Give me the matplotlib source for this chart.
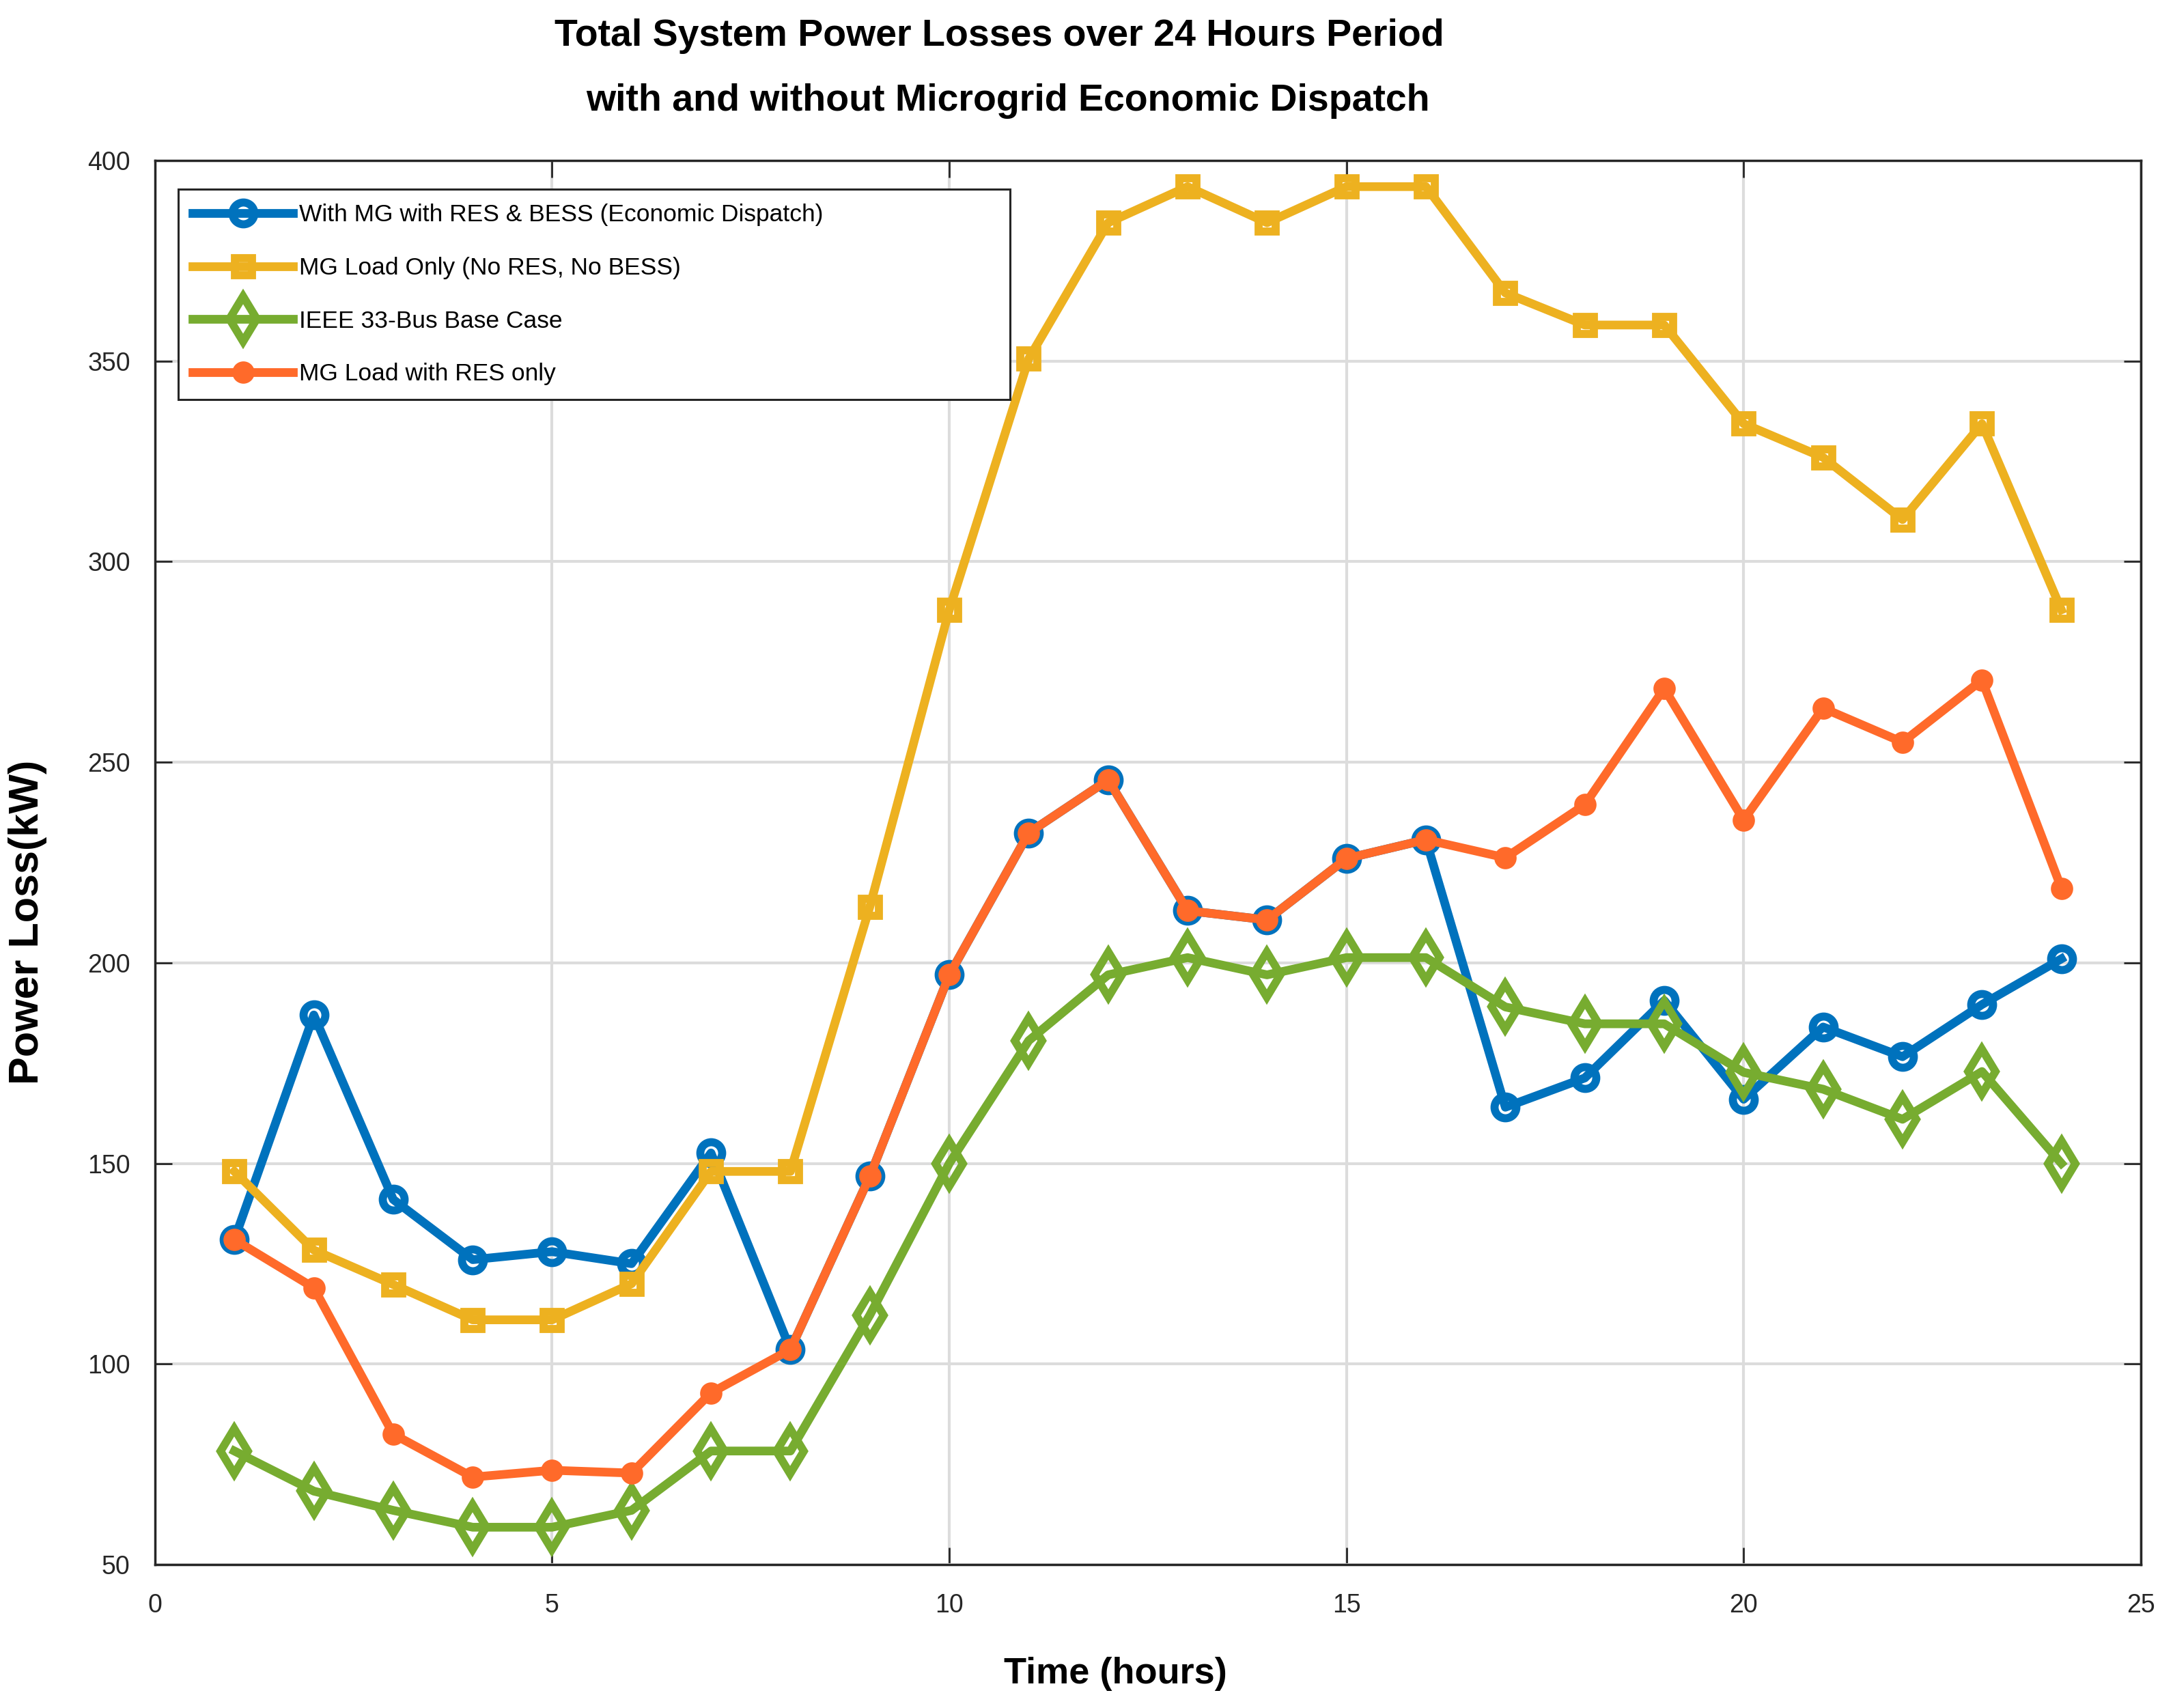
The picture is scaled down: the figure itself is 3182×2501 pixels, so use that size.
import numpy as np
import matplotlib
matplotlib.use("Agg")
import matplotlib.pyplot as plt

# ==================================================
# Data
# ==================================================
hours = list(range(1, 25))

with_mg_ed = [131, 187, 141, 126, 128, 125, 152.6, 103.6, 146.8, 197, 232.4, 245.6,
              213, 210.7, 226, 230.7, 164, 171.3, 190.6, 166, 184, 176.6, 189.6, 201]
mg_load_only = [148, 128.4, 119.8, 111, 111, 120, 148, 148, 214, 288, 350.6, 384.5,
                393.5, 384.5, 393.5, 393.5, 367, 359, 359, 334.4, 326, 310.5, 334.4, 288]
ieee_base = [78.3, 68.3, 63.5, 59.3, 59.3, 63.5, 78.3, 78.3, 112.2, 150, 180.6, 197,
             201.3, 197, 201.3, 201.3, 189, 184.8, 184.8, 172.7, 168.5, 161, 172.9, 150]
mg_res_only = [131, 119, 82.5, 71.8, 73.5, 72.8, 92.8, 103.6, 146.8, 197, 232.4, 245.6,
               213, 210.7, 226, 230.7, 226.2, 239.4, 268.4, 235.6, 263.5, 255, 270.5, 218.6]

labels = ["With MG with RES & BESS (Economic Dispatch)",
          "MG Load Only (No RES, No BESS)",
          "IEEE 33-Bus Base Case",
          "MG Load with RES only"]

x_ticks = [0, 5, 10, 15, 20, 25]
y_ticks = [50, 100, 150, 200, 250, 300, 350, 400]

# ==================================================
# Style
# ==================================================
plt.rcParams["font.family"] = ["Liberation Sans", "DejaVu Sans"]
AX_COLOR = "#262626"
BLUE = "#0072BD"
YELLOW = "#EDB120"
GREEN = "#77AC30"
ORANGE = "#FF6A2A"

LW = 9.2
MEW = 8.5

fig = plt.figure(figsize=(31.82, 25.01), dpi=100)
ax = fig.add_axes([0.0713, 0.0840, 0.9139, 0.8220])

ax.plot(hours, with_mg_ed, color=BLUE, lw=LW, marker="o", ms=23, mew=MEW,
        mfc="none", mec=BLUE, label=labels[0], zorder=3)
ax.plot(hours, mg_load_only, color=YELLOW, lw=LW, marker="s", ms=18, mew=MEW,
        mfc="none", mec=YELLOW, label=labels[1], zorder=3)
ax.plot(hours, ieee_base, color=GREEN, lw=LW, marker="d", ms=34, mew=MEW,
        mfc="none", mec=GREEN, label=labels[2], zorder=3)
ax.plot(hours, mg_res_only, color=ORANGE, lw=LW, marker="o", ms=15, mew=MEW,
        mfc=ORANGE, mec=ORANGE, label=labels[3], zorder=3)

ax.set_xlim(0, 25)
ax.set_ylim(50, 400)
ax.set_xticks(x_ticks)
ax.set_yticks(y_ticks)

ax.grid(True, color="#dcdcdc", lw=3, zorder=0)
ax.set_axisbelow(True)

for sp in ax.spines.values():
    sp.set_color(AX_COLOR)
    sp.set_linewidth(2.5)

ax.tick_params(axis="both", direction="in", length=18, width=2, colors=AX_COLOR,
               labelsize=27, top=True, right=True)
ax.tick_params(axis="x", pad=30)
ax.tick_params(axis="y", pad=26)

# titles and axis labels placed like the reference
fig.text(0.460, 0.979, "Total System Power Losses over 24 Hours Period",
         ha="center", va="center", fontsize=40, fontweight="bold")
fig.text(0.464, 0.941, "with and without Microgrid Economic Dispatch",
         ha="center", va="center", fontsize=40, fontweight="bold")
fig.text(0.5134, 0.020, "Time (hours)", ha="center", va="center",
         fontsize=39, fontweight="bold")
fig.text(0.0126, 0.460, "Power Loss(kW)", ha="center", va="center",
         rotation=90, fontsize=44, fontweight="bold")

leg = ax.legend(loc="upper left", bbox_to_anchor=(0.0117, 0.0, 0.419, 0.9796),
                mode="expand", borderaxespad=0, fontsize=25.5, handlelength=4.15,
                handletextpad=0.25, labelspacing=1.26, borderpad=0.6,
                fancybox=False, framealpha=1, edgecolor=AX_COLOR)
leg.get_frame().set_linewidth(2.2)

fig.savefig("out.png", dpi=100)
